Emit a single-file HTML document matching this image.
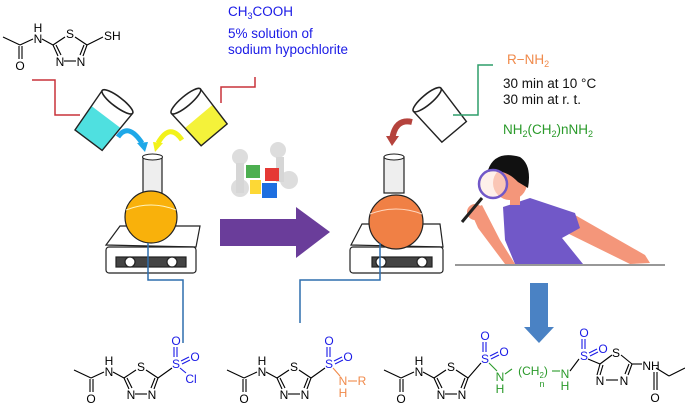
<!DOCTYPE html>
<html><head><meta charset="utf-8"><style>
html,body{margin:0;padding:0;background:#fff;}
svg{display:block;font-family:"Liberation Sans",sans-serif;}
</style></head><body>
<svg width="685" height="411" viewBox="0 0 685 411" xmlns="http://www.w3.org/2000/svg">
<defs>
<g id="mol" stroke="#000" stroke-width="1.1" fill="none">
  <line x1="0" y1="10" x2="17" y2="18"/>
  <line x1="16" y1="19" x2="16" y2="32"/><line x1="19" y1="19" x2="19" y2="32"/>
  <line x1="17" y1="18" x2="30" y2="12"/>
  <line x1="39" y1="12" x2="50" y2="18"/>
  <line x1="50" y1="18" x2="62" y2="10"/>
  <line x1="72" y1="10" x2="84" y2="18"/>
  <line x1="84" y1="18" x2="80" y2="29"/><line x1="81" y1="18" x2="77" y2="28"/>
  <line x1="61" y1="34" x2="73" y2="34"/>
  <line x1="50" y1="18" x2="55" y2="29"/><line x1="53" y1="18" x2="58" y2="28"/>
  <g stroke="none" fill="#000" font-size="12" text-anchor="middle">
    <text x="17" y="43">O</text><text x="35" y="16">N</text><text x="35" y="5">H</text>
    <text x="67" y="11">S</text><text x="57" y="39">N</text><text x="78" y="39">N</text>
  </g>
</g>
</defs>

<!-- top-left molecule -->
<use href="#mol" x="3" y="27"/>
<line x1="87" y1="45" x2="103" y2="37" stroke="#000" stroke-width="1.1"/>
<text x="104" y="40" font-size="12">SH</text>

<!-- reagent texts -->
<g fill="#1a1ae6" font-size="13.5">
<text x="228" y="16">CH<tspan font-size="9" dy="3">3</tspan><tspan dy="-3">COOH</tspan></text>
<text x="228" y="38">5% solution of</text>
<text x="228" y="54">sodium hypochlorite</text>
</g>

<!-- red lines -->
<polyline points="32,80 55,80 55,115 80,115" fill="none" stroke="#c8323a" stroke-width="1.5"/>
<polyline points="255,77 255,87 221,87 221,103" fill="none" stroke="#c8323a" stroke-width="1.5"/>

<!-- cyan beaker -->
<g transform="translate(103,121) rotate(37)">
  <path d="M-18,-5 L18,-5 L17,24 L-17,24 Z" fill="#4fe0e0"/>
  <path d="M-19,-24 L-17,24 L17,24 L19,-24" fill="none" stroke="#222" stroke-width="1.4"/>
  <ellipse cx="0" cy="-24" rx="19" ry="5" fill="#fff" stroke="#222" stroke-width="1.6"/>
</g>
<!-- yellow beaker -->
<g transform="translate(200,118) rotate(-40)">
  <path d="M-18,-2 L18,-2 L17,22 L-17,22 Z" fill="#f4f23a"/>
  <path d="M-19,-22 L-17,22 L17,22 L19,-22" fill="none" stroke="#222" stroke-width="1.4"/>
  <ellipse cx="0" cy="-22" rx="19" ry="5" fill="#fff" stroke="#222" stroke-width="1.6"/>
</g>
<!-- curved arrows -->
<path d="M118,137 Q128,122 142,143" fill="none" stroke="#1ea8e8" stroke-width="5"/>
<polygon points="137,143 148,142 145,152" fill="#1ea8e8"/>
<path d="M182,140 Q170,122 158,143" fill="none" stroke="#f2f21a" stroke-width="5"/>
<polygon points="153,142 163,143 155,152" fill="#f2f21a"/>

<!-- hotplate 1 -->
<g stroke="#222" stroke-width="1.2" fill="#fff">
  <polygon points="106,245 120,226 200,226 196,247"/>
  <rect x="106" y="247" width="90" height="26" rx="3"/>
  <rect x="116" y="257" width="70" height="10" fill="#444"/>
  <circle cx="130" cy="262" r="5"/><circle cx="172" cy="262" r="5"/>
</g>
<!-- flask 1 -->
<rect x="143" y="157" width="19" height="36" fill="#eee" stroke="#222" stroke-width="1.2"/>
<ellipse cx="152.5" cy="157" rx="10" ry="3" fill="#fff" stroke="#222"/>
<circle cx="151" cy="217" r="26" fill="#f9b10b" stroke="#222" stroke-width="1.2"/>
<path d="M126,210 Q151,200 176,210" fill="none" stroke="#fff5c0" stroke-width="1"/>
<polyline points="148,243 148,280 183,280 183,343" fill="none" stroke="#2f6fae" stroke-width="1.5"/>

<!-- puzzle people -->
<g>
  <circle cx="240" cy="157" r="8" fill="#ddd"/><circle cx="278" cy="150" r="8" fill="#ddd"/>
  <circle cx="240" cy="188" r="9" fill="#ddd"/><circle cx="289" cy="180" r="9" fill="#ddd"/>
  <rect x="236" y="163" width="8" height="30" fill="#d6d6d6"/><rect x="276" y="157" width="8" height="25" fill="#d6d6d6"/>
  <rect x="246" y="165" width="14" height="13" fill="#4caf50"/>
  <rect x="265" y="168" width="14" height="13" fill="#e53935"/>
  <rect x="250" y="180" width="11" height="14" fill="#fdd835"/>
  <rect x="262" y="183" width="15" height="15" fill="#1e6fe0"/>
</g>
<!-- purple arrow -->
<polygon points="220,219 296,219 296,207 330,232 296,258 296,246 220,246" fill="#6a3d9a"/>

<!-- hotplate 2 -->
<g stroke="#222" stroke-width="1.2" fill="#fff">
  <polygon points="351,245 362,224 440,224 443,247"/>
  <rect x="350" y="247" width="93" height="26" rx="3"/>
  <rect x="372" y="257" width="60" height="10" fill="#444"/>
  <circle cx="381" cy="262" r="5"/><circle cx="422" cy="262" r="5"/>
</g>
<!-- flask 2 -->
<rect x="384" y="157" width="20" height="36" fill="#eee" stroke="#222" stroke-width="1.2"/>
<ellipse cx="394" cy="157" rx="10" ry="3" fill="#fff" stroke="#222"/>
<circle cx="396" cy="222" r="27" fill="#f08045" stroke="#222" stroke-width="1.2"/>
<path d="M370,214 Q396,204 422,214" fill="none" stroke="#ffd8c0" stroke-width="1"/>
<polyline points="380,243 380,280 300,280 300,323" fill="none" stroke="#2f6fae" stroke-width="1.5"/>

<!-- red curved arrow -->
<path d="M412,122 Q395,118 392,140" fill="none" stroke="#b5433d" stroke-width="6"/>
<polygon points="386,136 399,136 392,146" fill="#b5433d"/>

<!-- beaker 3 -->
<g transform="translate(440,115) rotate(-40)">
  <path d="M-18,-20 L-16,22 L16,22 L18,-20" fill="#fff" stroke="#222" stroke-width="1.4"/>
  <ellipse cx="0" cy="-20" rx="18" ry="5" fill="#fff" stroke="#222" stroke-width="1.6"/>
</g>
<polyline points="493,65 478,65 478,115 453,115" fill="none" stroke="#2e9e6a" stroke-width="1.5"/>

<text x="507" y="64" font-size="13.5" fill="#f08a4b">R−NH<tspan font-size="9" dy="3">2</tspan></text>
<text x="503" y="88" font-size="13.5" fill="#111">30 min at 10 °C</text>
<text x="503" y="104" font-size="13.5" fill="#111">30 min at r. t.</text>
<text x="503" y="134" font-size="13.5" fill="#2a9a2a">NH<tspan font-size="9" dy="3">2</tspan><tspan dy="-3">(CH</tspan><tspan font-size="9" dy="3">2</tspan><tspan dy="-3">)nNH</tspan><tspan font-size="9" dy="3">2</tspan></text>

<!-- person -->
<line x1="455" y1="265" x2="665" y2="265" stroke="#777" stroke-width="1.5"/>
<path d="M575,215 L645,255 L650,263 L630,264 L565,232 Z" fill="#f4967a"/>
<path d="M503,207 L530,198 L575,213 L580,228 L562,238 L583,264 L515,264 L505,240 Z" fill="#7158c8"/>
<path d="M470,210 L482,205 L500,240 L515,264 L505,264 L478,228 Z" fill="#f4967a"/>
<circle cx="475" cy="212" r="8" fill="#f4967a"/>
<circle cx="510" cy="183" r="17" fill="#f4967a"/>
<path d="M488,170 Q495,150 520,157 Q532,165 528,188 L518,182 Q505,168 488,172 Z" fill="#111"/>
<rect x="510" y="195" width="10" height="10" fill="#f4967a"/>
<line x1="482" y1="198" x2="462" y2="222" stroke="#222" stroke-width="3"/>
<circle cx="493" cy="184" r="14" fill="#fde6dc" fill-opacity="0.6" stroke="#7158c8" stroke-width="2.5"/>

<!-- blue down arrow -->
<polygon points="530,283 548,283 548,327 554,327 539,343 524,327 530,327" fill="#4a82c4"/>

<!-- bottom molecule 1 -->
<g transform="translate(74,360)">
  <use href="#mol"/>
  <line x1="84" y1="18" x2="98" y2="8" stroke="#000" stroke-width="1.1"/>
  <g stroke="#1a1ae6" stroke-width="1.1">
    <line x1="100" y1="-3" x2="100" y2="-13"/><line x1="103" y1="-3" x2="103" y2="-13"/>
    <line x1="107" y1="1" x2="115" y2="-3"/><line x1="108" y1="4" x2="116" y2="0"/>
    <line x1="106" y1="8" x2="112" y2="13"/>
  </g>
  <g fill="#1a1ae6" font-size="12" text-anchor="middle">
    <text x="102" y="8">S</text><text x="102" y="-15">O</text><text x="121" y="1">O</text><text x="117" y="23">Cl</text>
  </g>
</g>

<!-- bottom molecule 2 -->
<g transform="translate(227,360)">
  <use href="#mol"/>
  <line x1="84" y1="18" x2="98" y2="8" stroke="#000" stroke-width="1.1"/>
  <g stroke="#1a1ae6" stroke-width="1.1">
    <line x1="100" y1="-3" x2="100" y2="-13"/><line x1="103" y1="-3" x2="103" y2="-13"/>
    <line x1="107" y1="1" x2="115" y2="-3"/><line x1="108" y1="4" x2="116" y2="0"/>
  </g>
  <line x1="106" y1="8" x2="113" y2="16" stroke="#f08a4b" stroke-width="1.1"/>
  <line x1="121" y1="21" x2="130" y2="21" stroke="#f08a4b" stroke-width="1.1"/>
  <g fill="#1a1ae6" font-size="12" text-anchor="middle">
    <text x="102" y="8">S</text><text x="102" y="-15">O</text><text x="121" y="1">O</text>
  </g>
  <g fill="#f08a4b" font-size="12" text-anchor="middle">
    <text x="116" y="25">N</text><text x="116" y="37">H</text><text x="135" y="25">R</text>
  </g>
</g>

<!-- bottom molecule 3 -->
<g transform="translate(384,360)">
  <use href="#mol"/>
  <line x1="84" y1="18" x2="97" y2="3" stroke="#000" stroke-width="1.1"/>
  <g stroke="#1a1ae6" stroke-width="1.1">
    <line x1="99" y1="-8" x2="99" y2="-18"/><line x1="102" y1="-8" x2="102" y2="-18"/>
    <line x1="106" y1="-4" x2="114" y2="-8"/><line x1="107" y1="-1" x2="115" y2="-5"/>
  </g>
  <g fill="#1a1ae6" font-size="12" text-anchor="middle">
    <text x="101" y="3">S</text><text x="101" y="-20">O</text><text x="120" y="-4">O</text>
  </g>
  <line x1="105" y1="3" x2="113" y2="11" stroke="#2a9a2a" stroke-width="1.1"/>
  <g fill="#2a9a2a" font-size="12" text-anchor="middle">
    <text x="116" y="21">N</text><text x="116" y="33">H</text>
    <text x="149" y="15">(CH<tspan font-size="8" dy="3">2</tspan><tspan dy="-3">)</tspan></text>
    <text x="158" y="27" font-size="9">n</text>
    <text x="181" y="18">N</text><text x="181" y="30">H</text>
  </g>
  <line x1="121" y1="14" x2="128" y2="9" stroke="#2a9a2a" stroke-width="1.1"/>
  <line x1="168" y1="11" x2="176" y2="11" stroke="#2a9a2a" stroke-width="1.1"/>
  <line x1="186" y1="11" x2="195" y2="-1" stroke="#000" stroke-width="1.1"/>
  <g stroke="#1a1ae6" stroke-width="1.1">
    <line x1="198" y1="-11" x2="198" y2="-21"/><line x1="201" y1="-11" x2="201" y2="-21"/>
    <line x1="205" y1="-7" x2="213" y2="-11"/><line x1="206" y1="-4" x2="214" y2="-8"/>
  </g>
  <g fill="#1a1ae6" font-size="12" text-anchor="middle">
    <text x="200" y="0">S</text><text x="200" y="-23">O</text><text x="219" y="-7">O</text>
  </g>
  <g stroke="#000" stroke-width="1.1">
    <line x1="204" y1="-1" x2="216" y2="4"/>
    <line x1="216" y1="4" x2="228" y2="-5"/>
    <line x1="237" y1="-5" x2="248" y2="4"/>
    <line x1="216" y1="4" x2="213" y2="15"/><line x1="219" y1="5" x2="216" y2="15"/>
    <line x1="222" y1="20" x2="234" y2="20"/>
    <line x1="248" y1="4" x2="244" y2="15"/><line x1="245" y1="4" x2="241" y2="14"/>
    <line x1="248" y1="4" x2="258" y2="4"/>
    <line x1="272" y1="8" x2="285" y2="16"/>
    <line x1="285" y1="16" x2="301" y2="8"/>
    <line x1="270" y1="12" x2="270" y2="30"/><line x1="273" y1="12" x2="273" y2="30"/>
  </g>
  <g fill="#000" font-size="12" text-anchor="middle">
    <text x="232" y="-3">S</text><text x="216" y="25">N</text><text x="240" y="25">N</text>
    <text x="267" y="10">NH</text><text x="271" y="42">O</text>
  </g>
</g>
</svg>
</body></html>
